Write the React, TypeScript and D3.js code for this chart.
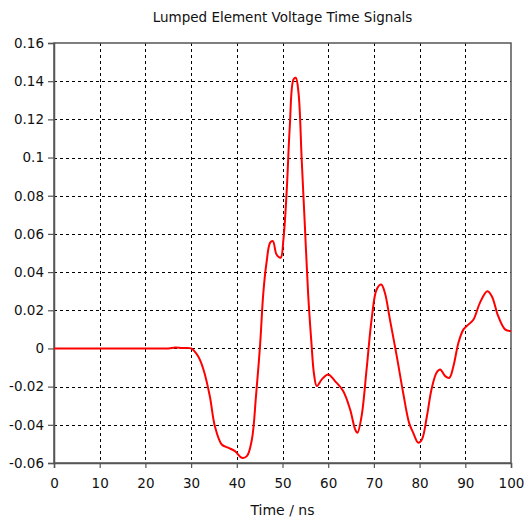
import React, { useEffect, useRef } from "react";
import * as d3 from "d3";

// Voltage across the lumped element, sampled along the time axis (ns)
const timeNs: number[] = [
  0, 10, 20, 25, 26.5, 28, 30, 31.5, 32.7, 34.1, 35.2, 36.7, 38.1, 39.6, 41.1, 42.2, 43.3, 44.2,
  45.1, 45.8, 46.5, 47.3, 47.9, 48.7, 49.6, 50.2, 50.9, 51.6, 52.4, 52.9, 53.5, 54.2,
  54.9, 55.6, 56.3, 56.9, 57.5, 58.6, 60.0, 61.5, 63.3, 64.8, 65.9, 66.4, 67.3, 68.4,
  69.5, 70.6, 71.6, 72.4, 73.5, 75.0, 76.4, 77.7, 78.6, 79.7, 80.5, 81.6, 82.6, 83.7,
  84.5, 85.6, 86.5, 87.4, 88.5, 89.6, 90.7, 91.8, 93.2, 94.8, 95.8, 97.2, 98.7, 100,
];
const voltage: number[] = [
  0, 0, 0, 0, 0.0005, 0.0002, 0, -0.004, -0.011, -0.025, -0.0407, -0.0503, -0.052, -0.0538,
  -0.0573, -0.0564, -0.0477, -0.025, 0.002, 0.029, 0.0449, 0.0554, 0.0562, 0.0492,
  0.0475, 0.0571, 0.0816, 0.1165, 0.1409, 0.1418, 0.134, 0.099, 0.064, 0.029, 0.004,
  -0.0135, -0.0197, -0.0162, -0.0136, -0.0171, -0.0224, -0.032, -0.0424, -0.0442,
  -0.0355, -0.011, 0.0152, 0.0309, 0.0335, 0.0292, 0.0152, -0.004, -0.0232, -0.039,
  -0.0442, -0.0494, -0.0477, -0.0355, -0.0215, -0.0127, -0.011, -0.0145, -0.0154,
  -0.0093, 0.003, 0.01, 0.0126, 0.0152, 0.0239, 0.03, 0.0274, 0.0169, 0.01, 0.0091,
];

const xTicks: number[] = [0, 10, 20, 30, 40, 50, 60, 70, 80, 90, 100];
const yTicks: number[] = [-0.06, -0.04, -0.02, 0, 0.02, 0.04, 0.06, 0.08, 0.1, 0.12, 0.14, 0.16];

const chartTitle = "Lumped Element Voltage Time Signals";
const xTitle = "Time / ns";

const W = 524;
const H = 520;
const margin = { left: 54, right: 13, top: 43, bottom: 57 };
const FONT = "'DejaVu Sans', Verdana, sans-serif";

export default function App() {
  const ref = useRef<SVGSVGElement | null>(null);

  useEffect(() => {
    const svg = d3.select(ref.current);
    svg.selectAll("*").remove();

    const x = d3.scaleLinear().domain([0, 100]).range([margin.left, W - margin.right]);
    const y = d3.scaleLinear().domain([-0.06, 0.16]).range([H - margin.bottom, margin.top]);

    // Dashed grid
    const grid = svg.append("g").attr("stroke", "#000").attr("stroke-width", 1).attr("stroke-dasharray", "3,3");
    xTicks.slice(1, -1).forEach((t) => {
      grid.append("line")
        .attr("x1", Math.round(x(t)) + 0.5).attr("x2", Math.round(x(t)) + 0.5)
        .attr("y1", y(0.16)).attr("y2", y(-0.06));
    });
    yTicks.slice(1, -1).forEach((v) => {
      grid.append("line")
        .attr("x1", x(0)).attr("x2", x(100))
        .attr("y1", Math.round(y(v)) + 0.5).attr("y2", Math.round(y(v)) + 0.5);
    });

    // Plot frame
    svg.append("rect")
      .attr("x", x(0)).attr("y", y(0.16))
      .attr("width", x(100) - x(0)).attr("height", y(-0.06) - y(0.16))
      .attr("fill", "none").attr("stroke", "#555").attr("stroke-width", 1.5);

    // Axes
    const xAxis = d3.axisBottom(x).tickValues(xTicks).tickSize(5).tickPadding(10).tickFormat(d3.format("d"));
    const yAxis = d3.axisLeft(y).tickValues(yTicks).tickSize(6).tickPadding(4).tickFormat((d) => `${+(+d).toFixed(2)}`);

    const gx = svg.append("g").attr("transform", `translate(0,${y(-0.06)})`).call(xAxis);
    const gy = svg.append("g").attr("transform", `translate(${x(0)},0)`).call(yAxis);
    [gx, gy].forEach((g) => {
      g.select(".domain").attr("stroke", "#555").attr("stroke-width", 1.5);
      g.selectAll(".tick line").attr("stroke", "#555").attr("stroke-width", 1.2);
      g.selectAll(".tick text").attr("fill", "#111").style("font-family", FONT).style("font-size", "13.5px");
    });

    // Signal trace
    const line = d3.line<number>()
      .x((_, i) => x(timeNs[i]))
      .y((v) => y(v))
      .curve(d3.curveCatmullRom.alpha(0.5));
    svg.append("path")
      .attr("d", line(voltage))
      .attr("fill", "none")
      .attr("stroke", "#ff0000")
      .attr("stroke-width", 2)
      .attr("stroke-linejoin", "round");

    // Titles
    svg.append("text")
      .attr("x", (x(0) + x(100)) / 2).attr("y", 22)
      .attr("text-anchor", "middle")
      .style("font-family", FONT).style("font-size", "13.5px").attr("fill", "#111")
      .text(chartTitle);
    svg.append("text")
      .attr("x", (x(0) + x(100)) / 2).attr("y", 515)
      .attr("text-anchor", "middle")
      .style("font-family", FONT).style("font-size", "14px").attr("fill", "#111")
      .text(xTitle);
  }, []);

  return (
    <svg
      ref={ref}
      width={W}
      height={H}
      style={{ position: "absolute", left: 0, top: 0, background: "#fff" }}
    />
  );
}
